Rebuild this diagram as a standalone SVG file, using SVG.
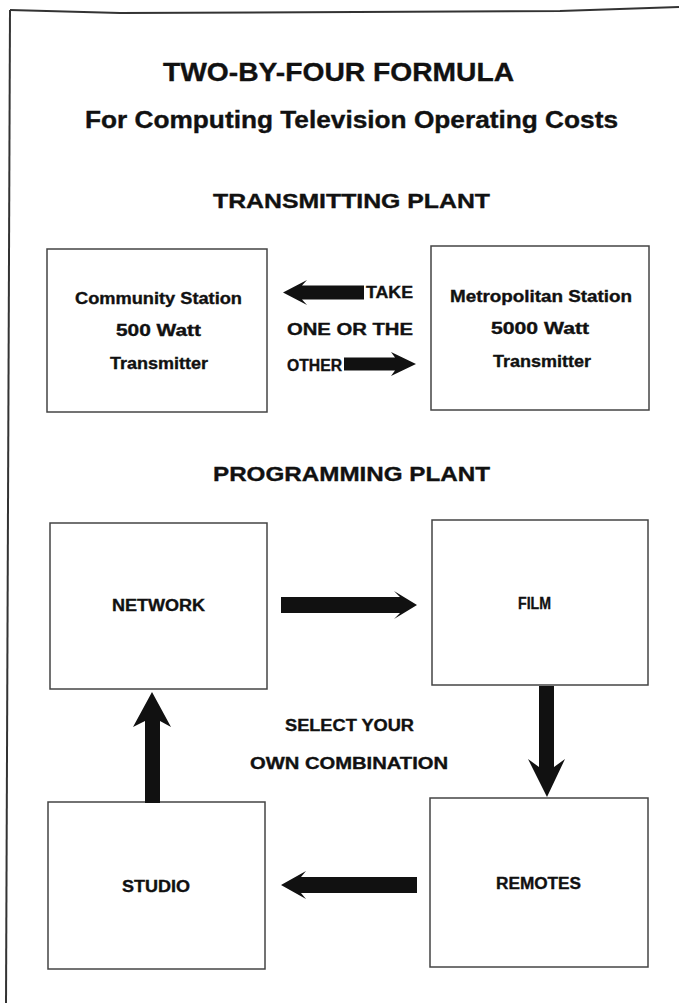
<svg xmlns="http://www.w3.org/2000/svg" width="679" height="1003" viewBox="0 0 679 1003">
  <style>
    text { font-family: "Liberation Sans", Arial, sans-serif; font-weight: bold; fill: #111; stroke: #111; stroke-width: 0.35; }
    .h1 { font-size: 25.5px; }
    .h2 { font-size: 23px; }
    .h3 { font-size: 20px; }
    .lbl { font-size: 16px; }
    .box { fill: #fff; stroke: #444; stroke-width: 1.5; }
    .arrow { fill: #111; stroke: none; }
    .edge { fill: none; stroke: #333; stroke-width: 2; }
  </style>

  <rect width="679" height="1003" fill="#fff"/>

  <!-- page rule along the top and left edges -->
  <path class="edge" d="M10,10 L120,13 L560,11 L679,7"/>
  <path class="edge" d="M10,10 L6,1003"/>

  <!-- headings -->
  <g id="headings">
    <text class="h1" x="163" y="81" textLength="351" lengthAdjust="spacingAndGlyphs">TWO-BY-FOUR  FORMULA</text>
    <text class="h2" x="85" y="128" textLength="533" lengthAdjust="spacingAndGlyphs">For Computing Television Operating Costs</text>
    <text class="h3" x="213" y="208" textLength="277" lengthAdjust="spacingAndGlyphs">TRANSMITTING  PLANT</text>
    <text class="h3" x="213" y="481" textLength="277" lengthAdjust="spacingAndGlyphs">PROGRAMMING  PLANT</text>
  </g>

  <!-- transmitting plant -->
  <g id="community">
    <rect class="box" x="47" y="249" width="220" height="163"/>
    <text class="lbl" x="75" y="304" textLength="167" lengthAdjust="spacingAndGlyphs">Community Station</text>
    <text class="lbl" x="116" y="336" textLength="85" lengthAdjust="spacingAndGlyphs">500 Watt</text>
    <text class="lbl" x="110" y="369" textLength="98" lengthAdjust="spacingAndGlyphs">Transmitter</text>
  </g>

  <g id="metropolitan">
    <rect class="box" x="431" y="246" width="218" height="164"/>
    <text class="lbl" x="450" y="302" textLength="182" lengthAdjust="spacingAndGlyphs">Metropolitan Station</text>
    <text class="lbl" x="491" y="334" textLength="98" lengthAdjust="spacingAndGlyphs">5000 Watt</text>
    <text class="lbl" x="493" y="367" textLength="98" lengthAdjust="spacingAndGlyphs">Transmitter</text>
  </g>

  <g id="choice">
    <text class="lbl" x="366" y="298" textLength="47" lengthAdjust="spacingAndGlyphs">TAKE</text>
    <text class="lbl" x="287" y="335" textLength="126" lengthAdjust="spacingAndGlyphs">ONE  OR  THE</text>
    <text class="lbl" x="287" y="371" textLength="55" lengthAdjust="spacingAndGlyphs">OTHER</text>
  </g>

  <!-- programming plant -->
  <g id="network">
    <rect class="box" x="50" y="523" width="217" height="166"/>
    <text class="lbl" x="112" y="611" textLength="93" lengthAdjust="spacingAndGlyphs">NETWORK</text>
  </g>

  <g id="film">
    <rect class="box" x="432" y="520" width="216" height="165"/>
    <text class="lbl" x="518" y="609" textLength="33" lengthAdjust="spacingAndGlyphs">FILM</text>
  </g>

  <g id="remotes">
    <rect class="box" x="430" y="798" width="218" height="169"/>
    <text class="lbl" x="496" y="889" textLength="85" lengthAdjust="spacingAndGlyphs">REMOTES</text>
  </g>

  <g id="studio">
    <rect class="box" x="48" y="802" width="217" height="167"/>
    <text class="lbl" x="122" y="892" textLength="68" lengthAdjust="spacingAndGlyphs">STUDIO</text>
  </g>

  <g id="combination">
    <text class="lbl" x="285" y="731" textLength="129" lengthAdjust="spacingAndGlyphs">SELECT  YOUR</text>
    <text class="lbl" x="250" y="769" textLength="198" lengthAdjust="spacingAndGlyphs">OWN  COMBINATION</text>
  </g>

  <!-- heavy block arrows -->
  <g id="connectors">
    <!-- TAKE: toward the community station -->
    <polygon class="arrow" points="364,285.5 302,285.5 307,280 283,292.5 307,305 302,299.5 364,299.5"/>
    <!-- OTHER: toward the metropolitan station -->
    <polygon class="arrow" points="344,357.5 395,357.5 391,352 416,364 391,376 395,370.5 344,370.5"/>
    <!-- network to film -->
    <polygon class="arrow" points="281,597 400,597 394,591 417,605 394,619 400,613 281,613"/>
    <!-- film to remotes -->
    <polygon class="arrow" points="539,686 554,686 554,767 565,759 547,797 528,759 539,767"/>
    <!-- remotes to studio -->
    <polygon class="arrow" points="417,877 301,877 306,871 281,885 306,899 301,893 417,893"/>
    <!-- studio to network -->
    <polygon class="arrow" points="145,803 145,721 133,727 152,692 171,727 160,721 160,803"/>
  </g>
</svg>
